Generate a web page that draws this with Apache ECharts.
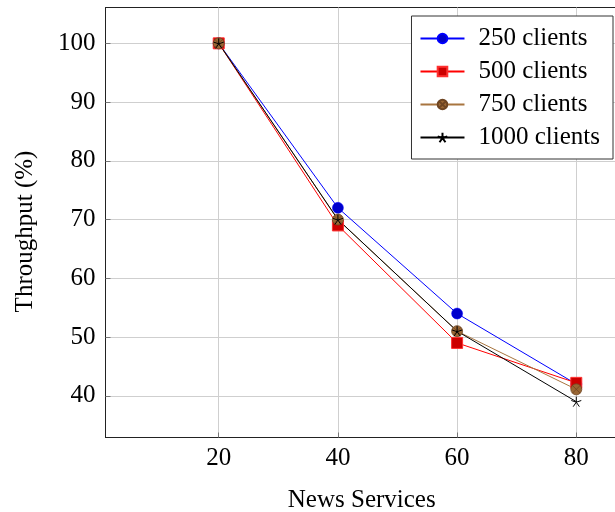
<!DOCTYPE html>
<html>
<head>
<meta charset="utf-8">
<script src="https://cdn.jsdelivr.net/npm/echarts@6/dist/echarts.min.js"></script>
<style>html,body{margin:0;padding:0;background:#fff}#c{width:615px;height:512px}</style>
</head>
<body>
<div id="c"></div>
<script>
const xValues = [20, 40, 60, 80];
const xTicks = [20, 40, 60, 80];
const yTicks = [40, 50, 60, 70, 80, 90, 100];
const seriesNames = ['250 clients', '500 clients', '750 clients', '1000 clients'];
const clients250 = [100, 72, 54, 42];
const clients500 = [100, 69, 49, 42.2];
const clients750 = [100, 70, 51, 41.1];
const clients1000 = [100, 70, 51, 39];

const FONT = '"Liberation Serif", "Times New Roman", serif';
const pair = arr => arr.map((v, i) => [xValues[i], v]);
const starPath = 'path://M0,0L0,-1M0,0L0.951,-0.309M0,0L0.588,0.809M0,0L-0.588,0.809M0,0L-0.951,-0.309';
const otimesPath = 'path://M1,0A1,1 0 1,1 -1,0A1,1 0 1,1 1,0ZM-0.707,-0.707L0.707,0.707M-0.707,0.707L0.707,-0.707';

const chart = echarts.init(document.getElementById('c'), null, {renderer: 'canvas'});
const gridColor = '#cfcfcf';
const axisCol = '#222';
chart.setOption({
  animation: false,
  backgroundColor: '#fff',
  grid: {left: 105.5, right: -3, top: 7.5, bottom: 74.5, outerBoundsMode: 'none', containLabel: false,
         show: true, borderColor: axisCol, borderWidth: 1, backgroundColor: 'transparent'},
  legend: {
    data: seriesNames,
    orient: 'vertical',
    right: 2, top: 16,
    backgroundColor: '#fff',
    borderColor: '#333', borderWidth: 1,
    padding: [10, 13, 9, 8],
    itemGap: 8,
    itemWidth: 44, itemHeight: 12,
    textStyle: {fontFamily: FONT, fontSize: 25, color: '#000', padding: [0, 0, 0, 9]}
  },
  xAxis: [{
    type: 'value', min: 1, max: 87,
    name: 'News Services', nameLocation: 'middle', nameGap: 50,
    nameTextStyle: {fontFamily: FONT, fontSize: 25, color: '#000'},
    axisLine: {show: true, lineStyle: {color: axisCol, width: 1}},
    axisTick: {show: true, inside: true, length: 5, customValues: xTicks, lineStyle: {color: '#777'}},
    axisLabel: {customValues: xTicks, fontFamily: FONT, fontSize: 25, color: '#000', margin: 8},
    splitLine: {show: true, lineStyle: {color: gridColor, width: 1}}
  }],
  yAxis: [{
    type: 'value', min: 32.9, max: 106.1,
    name: 'Throughput (%)', nameLocation: 'middle', nameGap: 68,
    nameTextStyle: {fontFamily: FONT, fontSize: 25, color: '#000', padding: [0, 18, 0, 0]},
    axisLine: {show: true, lineStyle: {color: axisCol, width: 1}},
    axisTick: {show: true, inside: true, length: 5, customValues: yTicks, lineStyle: {color: '#777'}},
    axisLabel: {customValues: yTicks, fontFamily: FONT, fontSize: 25, color: '#000', margin: 10},
    splitLine: {show: true, lineStyle: {color: gridColor, width: 1}}
  }],
  series: [
    {name: seriesNames[0], type: 'line', data: pair(clients250), symbol: 'circle', symbolSize: 11,
     lineStyle: {color: '#0000ff', width: 1}, itemStyle: {color: '#0000cc', borderColor: '#0000ff', borderWidth: 0.5}},
    {name: seriesNames[1], type: 'line', data: pair(clients500), symbol: 'rect', symbolSize: 11,
     lineStyle: {color: '#ff0000', width: 1}, itemStyle: {color: '#cc0000', borderColor: '#ff3030', borderWidth: 1}},
    {name: seriesNames[2], type: 'line', data: pair(clients750), symbol: otimesPath, symbolSize: 11,
     lineStyle: {color: '#a8753f', width: 1}, itemStyle: {color: '#996633', borderColor: '#6e4522', borderWidth: 0.8}},
    {name: seriesNames[3], type: 'line', data: pair(clients1000), symbol: starPath, symbolSize: 10,
     lineStyle: {color: '#000', width: 1}, itemStyle: {color: 'rgba(0,0,0,0)', borderColor: '#000', borderWidth: 1}}
  ]
});
</script>
</body>
</html>
